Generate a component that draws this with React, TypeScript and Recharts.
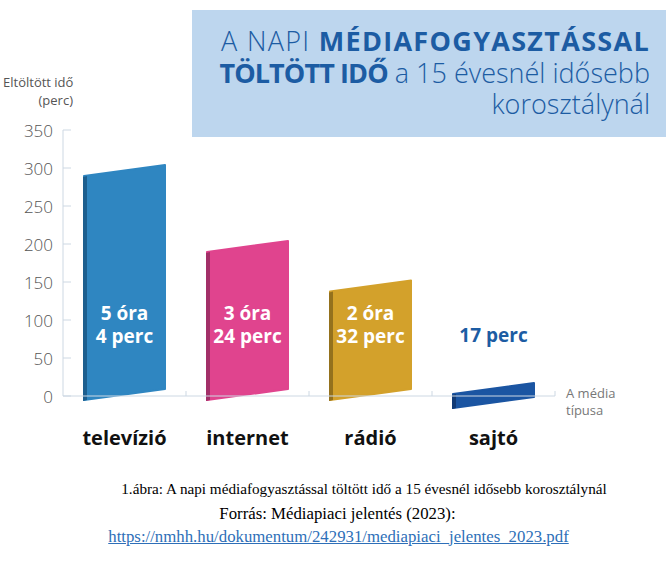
import React from 'react';
import { BarChart, Bar, XAxis, YAxis, Cell, LabelList } from 'recharts';

const categories = ['televízió', 'internet', 'rádió', 'sajtó'];
const minutes = [304, 204, 152, 17];
const barText = [['5 óra', '4 perc'], ['3 óra', '24 perc'], ['2 óra', '32 perc'], ['17 perc']];
const yTicks = [0, 50, 100, 150, 200, 250, 300, 350];

const barColors = ['#2f86c1', '#e0448e', '#d3a12b', '#1b55a2'];
const edgeColors = ['#1d5f8f', '#a22f68', '#94711d', '#113a75'];

const data = categories.map((name, i) => ({ name, value: minutes[i] }));

const FONT = '"Open Sans", "Noto Sans", sans-serif';
const SERIF = '"Liberation Serif", "Times New Roman", serif';
const BLUE = '#1c5ca3';

// slanted "3D-ish" bar: right edge sits on the value, left side drops a bit
const SlantBar = (props: any) => {
  const { x, y, width, height, index } = props;
  const skew = 11;
  const bottomR = Math.max(y + height - 7, y + 14);
  const face = `${x},${y + skew} ${x + width},${y} ${x + width},${bottomR} ${x},${bottomR + skew}`;
  const edge = `${x - 1},${y + skew + 1} ${x + 3},${y + skew} ${x + 3},${bottomR + skew} ${x - 1},${bottomR + skew + 1}`;
  return (
    <g>
      <polygon points={face} fill={barColors[index]} stroke={barColors[index]} strokeWidth={2} strokeLinejoin="round" />
      <polygon points={edge} fill={edgeColors[index]} />
    </g>
  );
};

const BarLabel = (props: any) => {
  const { x, y, width, height, index } = props;
  const lines = barText[index];
  const cx = x + width / 2;
  const bottom = y + height;
  if (lines.length === 1) {
    return (
      <text x={cx} y={bottom - 61} textAnchor="middle" dominantBaseline="central"
        fill={BLUE} fontFamily={FONT} fontWeight={700} fontSize={19}>
        {lines[0]}
      </text>
    );
  }
  return (
    <g>
      {lines.map((t, k) => (
        <text key={k} x={cx} y={bottom - 83 + k * 23} textAnchor="middle" dominantBaseline="central"
          fill="#fff" fontFamily={FONT} fontWeight={700} fontSize={19}>
          {t}
        </text>
      ))}
    </g>
  );
};

const YTick = (props: any) => {
  const { x, y, payload } = props;
  return (
    <g>
      <line x1={x} x2={x + 8} y1={y} y2={y} stroke="#cdd8e3" />
      <text x={x - 10} y={y} textAnchor="end" dominantBaseline="central"
        fill="#555" fontFamily={FONT} fontWeight={300} fontSize={17}>
        {payload.value}
      </text>
    </g>
  );
};

const XTick = (props: any) => {
  const { x, y, payload } = props;
  const half = 61.5;
  return (
    <g>
      <line x1={x + half} x2={x + half} y1={y - 5} y2={y} stroke="#cdd8e3" />
      <text x={x} y={y + 41} textAnchor="middle" dominantBaseline="central"
        fill="#111" fontFamily={FONT} fontWeight={700} fontSize={20}>
        {payload.value}
      </text>
    </g>
  );
};

export default function App() {
  return (
    <div style={{ position: 'absolute', left: 0, top: 0, width: 666, height: 567, background: '#fff', overflow: 'hidden' }}>
      <div style={{ position: 'absolute', left: 192, top: 10, width: 474, height: 127, background: '#bdd6ee' }} />
      <div style={{ position: 'absolute', right: 16, top: 25, textAlign: 'right', color: BLUE, fontFamily: FONT, fontSize: 27, lineHeight: '31.5px', whiteSpace: 'nowrap' }}>
        <div style={{ letterSpacing: 1.3 }}><span style={{ fontWeight: 300 }}>A NAPI </span><b>MÉDIAFOGYASZTÁSSAL</b></div>
        <div><b style={{ letterSpacing: -0.9 }}>TÖLTÖTT IDŐ</b><span style={{ fontWeight: 300 }}> a 15 évesnél idősebb</span></div>
        <div style={{ fontWeight: 300 }}>korosztálynál</div>
      </div>

      <div style={{ position: 'absolute', left: 3, top: 73, width: 70, color: '#555', fontFamily: FONT, fontSize: 13, lineHeight: '18px', textAlign: 'right', whiteSpace: 'nowrap' }}>
        <div>Eltöltött idő</div>
        <div>(perc)</div>
      </div>

      <div style={{ position: 'absolute', left: 566, top: 385, color: '#777', fontFamily: FONT, fontSize: 13, lineHeight: '17px' }}>
        <div>A média</div>
        <div>típusa</div>
      </div>

      <div style={{ position: 'absolute', left: 0, top: 0 }}>
        <BarChart width={666} height={470} data={data} margin={{ top: 130, right: 111, bottom: 14, left: 0 }}>
          <YAxis
            width={63}
            domain={[0, 350]}
            ticks={yTicks}
            interval={0}
            tickSize={0}
            tickMargin={0}
            tickLine={false}
            axisLine={{ stroke: '#cdd8e3' }}
            tick={<YTick />}
          />
          <XAxis
            dataKey="name"
            height={60}
            interval={0}
            tickSize={0}
            tickMargin={0}
            tickLine={false}
            axisLine={{ stroke: '#cdd8e3' }}
            tick={<XTick />}
          />
          <Bar dataKey="value" barSize={81} shape={<SlantBar />} isAnimationActive={false}>
            {data.map((d, i) => (
              <Cell key={d.name} fill={barColors[i]} />
            ))}
            <LabelList dataKey="value" content={<BarLabel />} />
          </Bar>
        </BarChart>
      </div>

      <div style={{ position: 'absolute', left: 0, top: 478, width: 666, fontFamily: SERIF, color: '#000', whiteSpace: 'nowrap' }}>
        <div style={{ position: 'absolute', left: 0, width: 728, top: 0, textAlign: 'center', fontSize: 15.2, lineHeight: '22px' }}>
          1.ábra: A napi médiafogyasztással töltött idő a 15 évesnél idősebb korosztálynál
        </div>
        <div style={{ position: 'absolute', left: 0, width: 675, top: 25, textAlign: 'center', fontSize: 16.8, lineHeight: '22px' }}>
          Forrás: Médiapiaci jelentés (2023):
        </div>
        <div style={{ position: 'absolute', left: 0, width: 677, top: 48, textAlign: 'center', fontSize: 16.8, lineHeight: '22px' }}>
          <a href="https://nmhh.hu/dokumentum/242931/mediapiaci_jelentes_2023.pdf" style={{ color: '#2e6fb8', textDecoration: 'underline' }}>
            https://nmhh.hu/dokumentum/242931/mediapiaci_jelentes_2023.pdf
          </a>
        </div>
      </div>
    </div>
  );
}
